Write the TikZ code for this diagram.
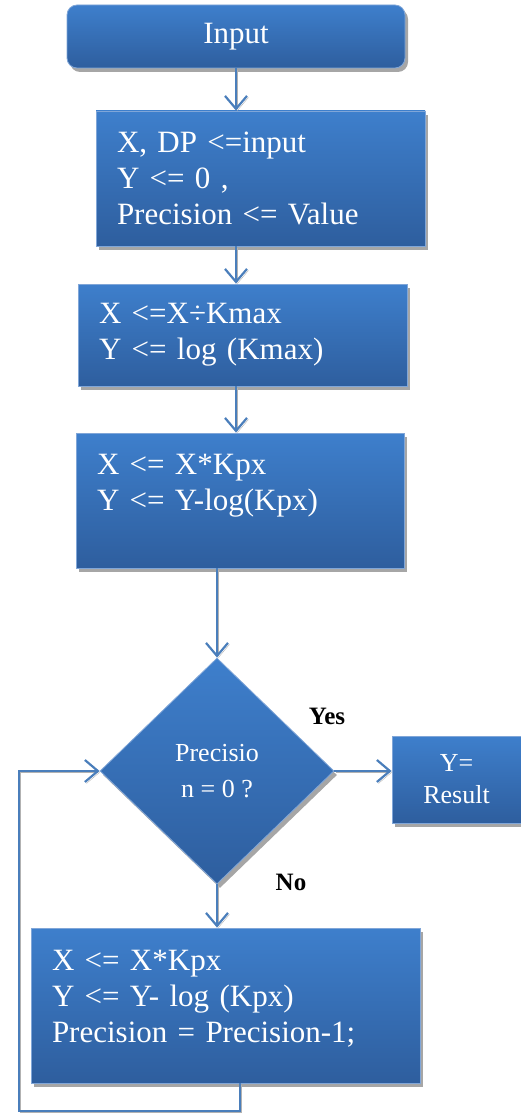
\documentclass[tikz,border=0pt]{standalone}
\usepackage{fontspec}
\setmainfont{Liberation Serif}
\usetikzlibrary{arrows.meta,shapes.geometric,shadows}

\definecolor{boxtop}{RGB}{62,127,204}
\definecolor{boxbot}{RGB}{46,94,158}
\definecolor{boxline}{RGB}{128,166,216}
\definecolor{linkblue}{RGB}{74,126,187}

\tikzset{
	flowbox/.style={rectangle,draw=boxline,line width=0.8pt,top color=boxtop,bottom color=boxbot,
		text=white,font=\fontsize{31}{36}\selectfont,align=left,inner xsep=21pt,
		drop shadow={shadow xshift=3pt,shadow yshift=-4pt,fill=black!35,opacity=1}},
	startbox/.style={flowbox,rounded corners=10pt,align=center},
	decision/.style={flowbox,diamond,inner sep=0pt,align=center,font=\fontsize{26}{36}\selectfont},
	endbox/.style={flowbox,inner sep=0pt,align=center,font=\fontsize{26}{32}\selectfont},
	answer/.style={font=\fontsize{25}{30}\selectfont\bfseries},
	link/.style={draw=linkblue,line width=2.2pt,-{Straight Barb[length=13pt,width=22pt,line width=2.2pt]},
		preaction={draw=black!30,transform canvas={xshift=1.5pt,yshift=-1.5pt}}}
}

\begin{document}
\begin{tikzpicture}[x=1pt,y=-1pt]
	\useasboundingbox (0,0) rectangle (521,1113);

	% boxes of the flow
	\node[startbox,minimum width=338pt,minimum height=63pt] (input) at (236,36.5) {Input};
	\node[flowbox,text width=287pt,minimum height=135pt] (init) at (260.5,178.5)
		{X, DP <=input\\Y <= 0 ,\\Precision <= Value};
	\node[flowbox,text width=287pt,minimum height=102pt] (scale) at (242.5,335)
		{X <=X÷Kmax\\Y <= log (Kmax)};
	\node[flowbox,text width=286pt,minimum height=135pt] (step) at (240,500.5)
		{X <= X*Kpx\\Y <= Y-log(Kpx)\\ \mbox{}};
	\node[decision,minimum width=234pt,minimum height=226pt] (decide) at (217,771)
		{Precisio\\n = 0 ?};
	\node[endbox,minimum width=129pt,minimum height=87pt] (result) at (456.5,779.5)
		{Y=\\Result};
	\node[flowbox,text width=347pt,minimum height=155pt] (loop) at (225.5,1005.5)
		{X <= X*Kpx\\Y <= Y- log (Kpx)\\Precision = Precision-1;\\[-18pt]\mbox{}};

	\node[answer] (yes) at (327,716) {Yes};
	\node[answer] (no) at (291,882) {No};

	% connectors
	\draw[link] (input.south) -- (input.south |- init.north);
	\draw[link] (init.south -| input.south) -- (scale.north -| input.south);
	\draw[link] (scale.south -| input.south) -- (step.north -| input.south);
	\draw[link] (step.south -| decide.north) -- (decide.north);
	\draw[link] (decide.east) -- (decide.east -| result.west);
	\draw[link] (decide.south) -- (decide.south |- loop.north);

	% back to the test
	\coordinate (backa) at (240,1111);
	\coordinate (backb) at (19,1111);
	\draw[link] (loop.south -| backa) -- (backa) -- (backb) |- (decide.west);
\end{tikzpicture}
\end{document}
